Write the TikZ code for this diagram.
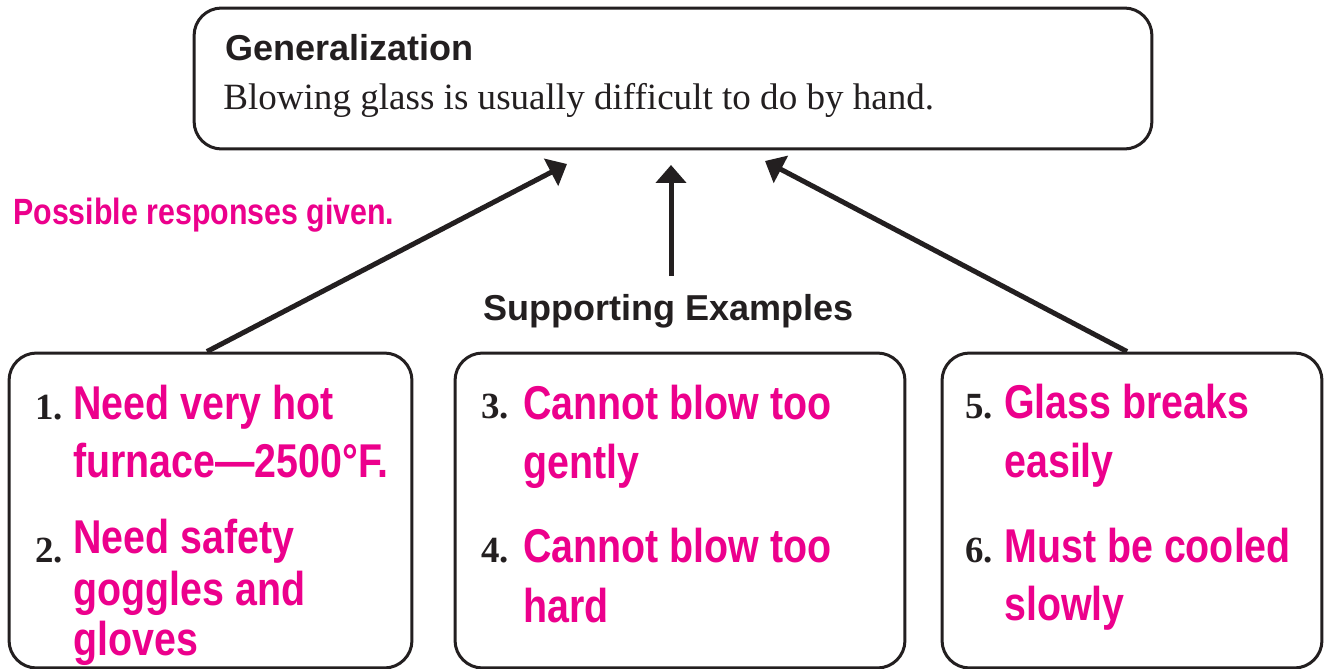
\documentclass[tikz,border=0pt]{standalone}
\usepackage{fontspec}
\setmainfont{Liberation Serif}
\setsansfont{Liberation Sans}
\newfontfamily\condfont{Liberation Sans}[FakeStretch=0.83]
\usetikzlibrary{arrows.meta}

\definecolor{respink}{RGB}{236,0,140}
\definecolor{ink}{RGB}{35,31,32}

\tikzset{
  ebox/.style={draw=ink, line width=0.06cm, rounded corners=0.55cm, inner sep=0pt, minimum height=6.3cm},
  answer/.style={anchor=base west, inner sep=0pt, text=respink, font=\condfont\bfseries\fontsize{27}{32}\selectfont},
  itemnum/.style={anchor=base west, inner sep=0pt, text=ink, font=\rmfamily\bfseries\fontsize{21}{25}\selectfont},
  heading/.style={anchor=base west, inner sep=0pt, text=ink, font=\sffamily\bfseries\fontsize{20.5}{24}\selectfont},
  uparrow/.style={draw=ink, line width=0.1cm, -{Triangle[length=0.36cm,width=0.6cm]}}
}

\begin{document}
\begin{tikzpicture}[x=0.02cm, y=-0.02cm]
      \useasboundingbox[fill=white] (0,0) rectangle (1325,669);

      % generalization box
      \node[ebox, minimum width=19.16cm, minimum height=2.82cm] (genbox) at (673,78.5) {};
      \node[heading] (genhead) at (225,61) {Generalization};
      \node[anchor=base west, inner sep=0pt, text=ink, font=\rmfamily\fontsize{21.1}{25}\selectfont] (gentext) at (223,110) {Blowing glass is usually difficult to do by hand.};

      \node[anchor=base west, inner sep=0pt, text=respink, font=\condfont\bfseries\fontsize{20.8}{25}\selectfont] (note) at (13,224) {Possible responses given.};
      \node[heading] (suplabel) at (483,320) {Supporting Examples};

      % example boxes
      \node[ebox, minimum width=8.06cm] (boxA) at (210.5,510.5) {};
      \node[ebox, minimum width=9cm] (boxB) at (680,510.5) {};
      \node[ebox, minimum width=7.6cm] (boxC) at (1132,510.5) {};

      \node[itemnum] (numA) at (35,419) {1.};
      \node[answer] (ansAa) at (73,419) {Need very hot};
      \node[answer] (ansAb) at (73,477) {furnace—2500°F.};
      \node[itemnum] (numB) at (35,562) {2.};
      \node[answer] (ansBa) at (73,553) {Need safety};
      \node[answer] (ansBb) at (73,605) {goggles and};
      \node[answer] (ansBc) at (73,655) {gloves};

      \node[itemnum] (numC) at (481,418) {3.};
      \node[answer] (ansCa) at (523,419) {Cannot blow too};
      \node[answer] (ansCb) at (523,478) {gently};
      \node[itemnum] (numD) at (481,562) {4.};
      \node[answer] (ansDa) at (523,562) {Cannot blow too};
      \node[answer] (ansDb) at (523,622) {hard};

      \node[itemnum] (numE) at (965,418) {5.};
      \node[answer] (ansEa) at (1004,418) {Glass breaks};
      \node[answer] (ansEb) at (1004,477) {easily};
      \node[itemnum] (numF) at (965,562) {6.};
      \node[answer] (ansFa) at (1004,562) {Must be cooled};
      \node[answer] (ansFb) at (1004,620) {slowly};

      % arrows up to the generalization
      \coordinate (tipA) at (567,164);
      \coordinate (tipB) at (671,165);
      \coordinate (tipC) at (765,161);
      \coordinate (tailB) at (671,276);
      \draw[uparrow] ([xshift=-0.07cm]boxA.north) -- (tipA);
      \draw[uparrow] (tailB) -- (tipB);
      \draw[uparrow] ([xshift=-0.1cm]boxC.north) -- (tipC);
\end{tikzpicture}
\end{document}
